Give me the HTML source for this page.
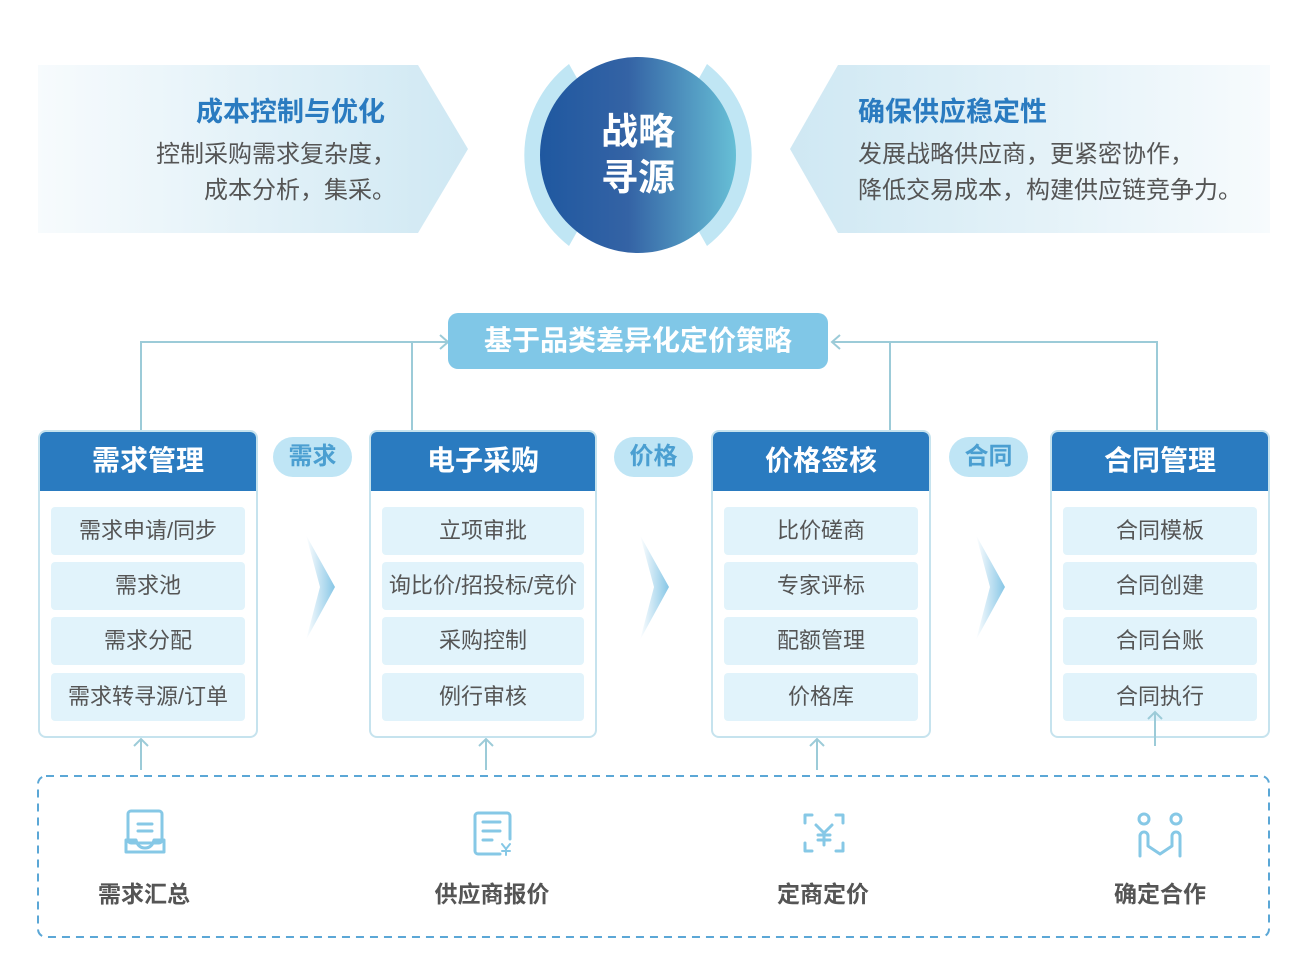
<!DOCTYPE html>
<html><head><meta charset="utf-8">
<style>
body{margin:0;width:1298px;height:962px;background:#fff;position:relative;overflow:hidden;font-family:"Liberation Sans","Noto Sans CJK SC",sans-serif;}
.a{position:absolute;}
.t{position:absolute;white-space:nowrap;}
.box{position:absolute;border:2px solid #c6e3ee;border-radius:8px;background:#fff;box-sizing:border-box;overflow:hidden;}
.hd{height:59px;background:#2a7bc0;color:#fff;font-weight:bold;font-size:28px;text-align:center;line-height:57px;}
.it{position:absolute;left:11px;right:11px;height:48px;background:#e1f3fb;border-radius:4px;text-align:center;line-height:48px;font-size:22px;color:#555;}
.tag{position:absolute;width:79px;height:40px;border-radius:20px;background:#bfe5f5;color:#4b9fd1;font-weight:bold;font-size:24px;text-align:center;line-height:40px;}
.lb{position:absolute;font-weight:bold;font-size:23px;color:#555;text-align:center;width:200px;}
</style></head><body>
<svg class="a" style="left:0;top:0" width="1298" height="962">
<defs>
<linearGradient id="gl" x1="0" x2="1"><stop offset="0" stop-color="#f7fbfd"/><stop offset="1" stop-color="#cfe8f3"/></linearGradient>
<linearGradient id="gr" x1="1" x2="0"><stop offset="0" stop-color="#f7fbfd"/><stop offset="1" stop-color="#cfe8f3"/></linearGradient>
<linearGradient id="gc" x1="0" x2="1"><stop offset="0" stop-color="#1f58a0"/><stop offset="0.45" stop-color="#3463a5"/><stop offset="1" stop-color="#67bfd6"/></linearGradient>
<linearGradient id="gch" x1="0" x2="1"><stop offset="0" stop-color="#fff"/><stop offset="1" stop-color="#86c6e6"/></linearGradient>
</defs>
<polygon points="38,65 418,65 468,149 418,233 38,233" fill="url(#gl)"/>
<polygon points="1270,65 838,65 790,149 838,233 1270,233" fill="url(#gr)"/>
<path d="M569,64 A115,115 0 0 0 569,246 L578,230 A98,98 0 0 1 578,80 Z" fill="#c0e6f4"/>
<path d="M707,64 A115,115 0 0 1 707,246 L698,230 A98,98 0 0 0 698,80 Z" fill="#c0e6f4"/>
<circle cx="638" cy="155" r="98" fill="url(#gc)"/>
<g stroke="#9ccbd8" stroke-width="2" fill="none">
<polyline points="141,430 141,342 448,342"/>
<line x1="412" y1="342" x2="412" y2="430"/>
<polyline points="440,335 448,342 440,349"/>
<polyline points="1157,430 1157,342 832,342"/>
<line x1="890" y1="342" x2="890" y2="430"/>
<polyline points="840,335 832,342 840,349"/>
<line x1="141" y1="770" x2="141" y2="739"/><polyline points="134,746 141,739 148,746"/>
<line x1="486" y1="770" x2="486" y2="739"/><polyline points="479,746 486,739 493,746"/>
<line x1="817" y1="770" x2="817" y2="739"/><polyline points="810,746 817,739 824,746"/>
</g>
<rect x="448" y="313" width="380" height="56" rx="10" fill="#80c7e7"/>
<polygon points="306,535 335,587 306,640 320,587" fill="url(#gch)"/>
<polygon points="640,535 669,587 640,640 654,587" fill="url(#gch)"/>
<polygon points="976,535 1005,587 976,640 990,587" fill="url(#gch)"/>
<rect x="38" y="776" width="1231" height="161" rx="8" fill="none" stroke="#5ba7d6" stroke-width="2" stroke-dasharray="8,6"/>
</svg>
<div class="t" style="left:196px;top:90px;font-size:27px;font-weight:bold;color:#2a7bc0">成本控制与优化</div>
<div class="t" style="left:156px;top:137px;font-size:24px;color:#555;text-align:right;line-height:36px">控制采购需求复杂度，<br>成本分析，集采。</div>
<div class="t" style="left:858px;top:90px;font-size:27px;font-weight:bold;color:#2a7bc0">确保供应稳定性</div>
<div class="t" style="left:858px;top:137px;font-size:24px;color:#555;line-height:36px">发展战略供应商，更紧密协作，<br>降低交易成本，构建供应链竞争力。</div>
<div class="t" style="left:588px;top:109px;width:100px;font-size:37px;color:#fff;font-weight:bold;line-height:46px;text-align:center">战略<br>寻源</div>
<div class="t" style="left:448px;top:313px;width:380px;text-align:center;line-height:56px;font-size:28px;font-weight:bold;color:#fff">基于品类差异化定价策略</div>

<div class="box" style="left:38px;top:430px;width:220px;height:308px"><div class="hd">需求管理</div>
<div class="it" style="top:75px">需求申请/同步</div><div class="it" style="top:130px">需求池</div><div class="it" style="top:185px">需求分配</div><div class="it" style="top:241px">需求转寻源/订单</div></div>
<div class="box" style="left:369px;top:430px;width:228px;height:308px"><div class="hd">电子采购</div>
<div class="it" style="top:75px">立项审批</div><div class="it" style="top:130px">询比价/招投标/竞价</div><div class="it" style="top:185px">采购控制</div><div class="it" style="top:241px">例行审核</div></div>
<div class="box" style="left:711px;top:430px;width:220px;height:308px"><div class="hd">价格签核</div>
<div class="it" style="top:75px">比价磋商</div><div class="it" style="top:130px">专家评标</div><div class="it" style="top:185px">配额管理</div><div class="it" style="top:241px">价格库</div></div>
<div class="box" style="left:1050px;top:430px;width:220px;height:308px"><div class="hd">合同管理</div>
<div class="it" style="top:75px">合同模板</div><div class="it" style="top:130px">合同创建</div><div class="it" style="top:185px">合同台账</div><div class="it" style="top:241px">合同执行</div></div>
<svg class="a" style="left:1145px;top:708px" width="20" height="40"><g stroke="#9ccbd8" stroke-width="2" fill="none"><line x1="10" y1="38" x2="10" y2="4"/><polyline points="3,11 10,4 17,11"/></g></svg>

<div class="tag" style="left:273px;top:437px">需求</div>
<div class="tag" style="left:614px;top:437px">价格</div>
<div class="tag" style="left:949px;top:437px">合同</div>

<svg class="a" style="left:0;top:0" width="1298" height="962"><g stroke="#86c8e6" stroke-width="3" fill="none" stroke-linecap="round" stroke-linejoin="round">
<rect x="128" y="811" width="34" height="32" rx="3"/><path d="M126,840 h10 q2,8 9,8 q7,0 9,-8 h10 v12 h-38 z"/><line x1="138" y1="824" x2="152" y2="824"/><line x1="138" y1="831" x2="152" y2="831"/>
<path d="M500,854 h-22 a3,3 0 0 1 -3,-3 v-35 a3,3 0 0 1 3,-3 h29 a3,3 0 0 1 3,3 v23"/><line x1="483" y1="822" x2="500" y2="822"/><line x1="483" y1="831" x2="500" y2="831"/><line x1="483" y1="840" x2="492" y2="840"/>
<path d="M502,844 l4,5 l4,-5 M506,849 v6 M502,851 h8" stroke-width="2"/>
<path d="M805,823 v-8 h7 M843,823 v-8 h-7 M805,843 v8 h7 M843,843 v8 h-7"/>
<path d="M816,825 l8,8 l8,-8 M824,833 v12 M818,835 h12 M818,840 h12"/>
<circle cx="1144" cy="819" r="5"/><circle cx="1176" cy="819" r="5"/>
<path d="M1140,856 v-20 a4,4 0 0 1 8,0 v10 l12,8 l12,-8 v-10 a4,4 0 0 1 8,0 v20"/>
</g></svg>
<div class="lb" style="left:44px;top:875px">需求汇总</div>
<div class="lb" style="left:392px;top:875px">供应商报价</div>
<div class="lb" style="left:723px;top:875px">定商定价</div>
<div class="lb" style="left:1060px;top:875px">确定合作</div>
</body></html>
